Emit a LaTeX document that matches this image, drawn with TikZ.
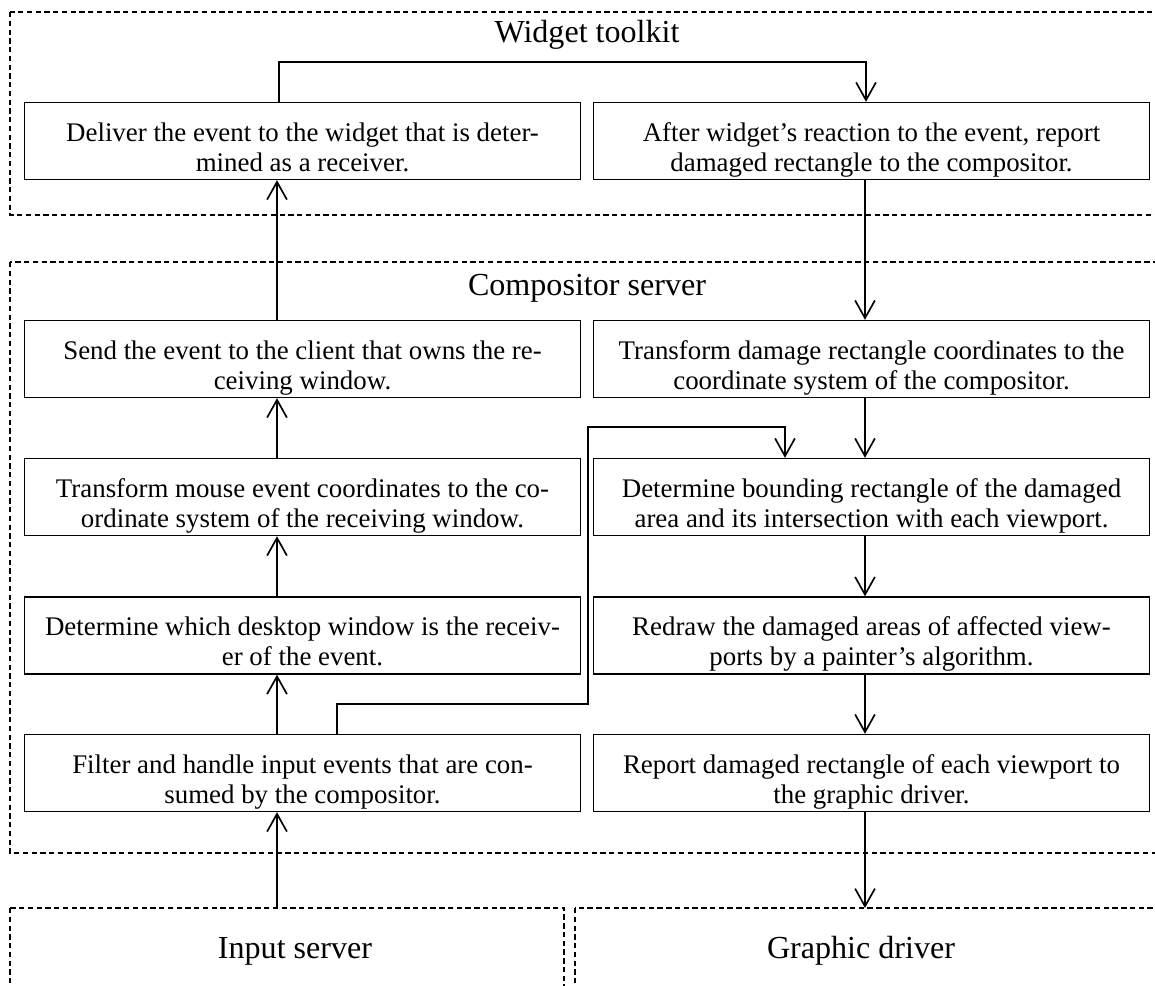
\documentclass[tikz,border=0pt]{standalone}
\usepackage{fontspec}
\setmainfont{Liberation Serif}
\usetikzlibrary{arrows.meta}
\begin{document}
\begin{tikzpicture}[x=0.48pt, y=-0.48pt,
  stepbox/.style={draw, line width=0.6pt, rectangle, minimum width=267pt, minimum height=37pt,
    inner sep=0pt, text height=31pt, text depth=2pt, align=center,
    font=\fontsize{12.9pt}{14.4pt}\selectfont},
  frame/.style={draw, line width=0.5pt, dash pattern=on 2.6pt off 1.6pt},
  title/.style={anchor=base, font=\fontsize{15.4pt}{18pt}\selectfont},
  arr/.style={line width=0.9pt, -{Straight Barb[length=8.5pt, width=9.5pt, line width=0.8pt]}}]
\useasboundingbox (0,0) rectangle (1155,985);
\clip (0,0) rectangle (1155,985);

% group frames
\draw[frame] (10,12) rectangle (1170,215);
\draw[frame] (10,262) rectangle (1170,853);
\draw[frame] (10,908) rectangle (564,1000);
\draw[frame] (575,908) rectangle (1170,1000);
\coordinate (lowtop) at (0,908);

\node[title] (wt) at (587,42) {Widget toolkit};
\node[title] (cs) at (587,295) {Compositor server};
\node[title] (is) at (295,958) {Input server};
\node[title] (gd) at (861,958) {Graphic driver};

% processing steps
\node[stepbox] (deliver) at (302.5,141) {Deliver the event to the widget that is deter-\\mined as a receiver.};
\node[stepbox] (after) at (871.5,141) {After widget’s reaction to the event, report\\damaged rectangle to the compositor.};
\node[stepbox] (send) at (302.5,359) {Send the event to the client that owns the re-\\ceiving window.};
\node[stepbox] (tdamage) at (871.5,359) {Transform damage rectangle coordinates to the\\coordinate system of the compositor.};
\node[stepbox] (tmouse) at (302.5,497) {Transform mouse event coordinates to the co-\\ordinate system of the receiving window.};
\node[stepbox] (bound) at (871.5,497) {Determine bounding rectangle of the damaged\\area and its intersection with each viewport.};
\node[stepbox] (which) at (302.5,635.5) {Determine which desktop window is the receiv-\\er of the event.};
\node[stepbox] (redraw) at (871.5,635.5) {Redraw the damaged areas of affected view-\\ports by a painter’s algorithm.};
\node[stepbox] (filter) at (302.5,773) {Filter and handle input events that are con-\\sumed by the compositor.};
\node[stepbox] (report) at (871.5,773) {Report damaged rectangle of each viewport to\\the graphic driver.};

\coordinate (lx) at (277,0);
\coordinate (rx) at (865,0);
\coordinate (topturn) at (866,62);
\coordinate (f1) at (337,704);
\coordinate (f2) at (588,704);
\coordinate (f3) at (588,427);
\coordinate (f4) at (785,427);

% input path
\draw[arr] (lx |- lowtop) -- (filter.south -| lx);
\draw[arr] (filter.north -| lx) -- (which.south -| lx);
\draw[arr] (which.north -| lx) -- (tmouse.south -| lx);
\draw[arr] (tmouse.north -| lx) -- (send.south -| lx);
\draw[arr] (send.north -| lx) -- (deliver.south -| lx);
\draw[arr] (deliver.north -| 279,0) |- (topturn) -- (after.north -| topturn);

% output path
\draw[arr] (after.south -| rx) -- (tdamage.north -| rx);
\draw[arr] (tdamage.south -| rx) -- (bound.north -| rx);
\draw[arr] (bound.south -| rx) -- (redraw.north -| rx);
\draw[arr] (redraw.south -| rx) -- (report.north -| rx);
\draw[arr] (report.south -| rx) -- (rx |- lowtop);

% filter to damage computation
\draw[arr] (filter.north -| f1) -- (f1) -- (f2) -- (f3) -- (f4) -- (bound.north -| f4);
\end{tikzpicture}
\end{document}
